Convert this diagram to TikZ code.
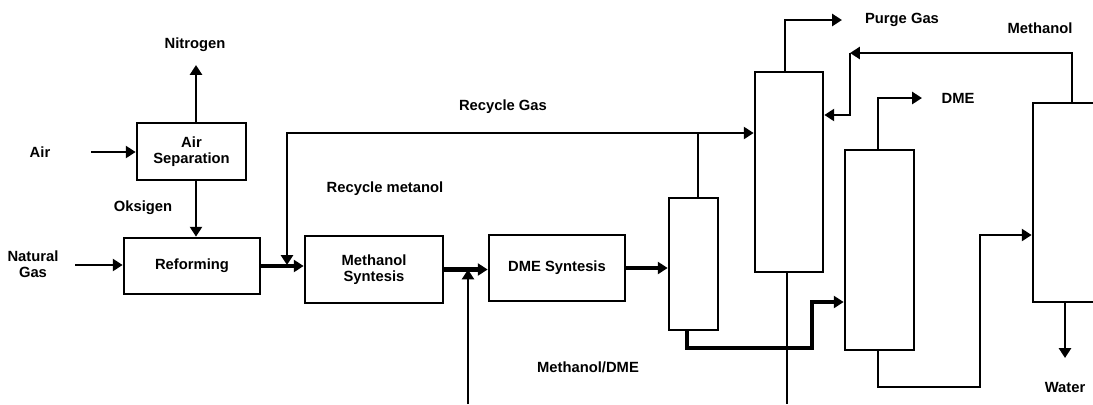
\documentclass[tikz,border=0pt]{standalone}
\usepackage{fontspec}
\setmainfont{Liberation Sans}
\usetikzlibrary{arrows.meta,calc}

\begin{document}
\begin{tikzpicture}[x=0.025cm, y=-0.025cm,
    lbl/.style={align=center, font=\bfseries\fontsize{10.5}{11.5}\selectfont},
    unit/.style={lbl, draw, line width=1.9pt, inner sep=0pt},
    pipe/.style={line width=1.9pt},
    flow/.style={pipe, -{Triangle[length=7pt,width=8.5pt]}},
    mainflow/.style={flow, line width=3pt}]
    \useasboundingbox (0,0) rectangle (1093,404);
    % process units
    \node[unit, minimum width=2.725cm, minimum height=1.425cm] (sep) at (191.5,151.5) {Air\\Separation};
    \node[unit, minimum width=3.4cm, minimum height=1.4cm] (ref) at (192,266) {Reforming};
    \node[unit, minimum width=3.45cm, minimum height=1.675cm] (ms) at (374,269.5) {Methanol\\Syntesis};
    \node[unit, minimum width=3.4cm, minimum height=1.65cm] (dme) at (557,268) {DME Syntesis};
    % columns
    \node[unit, minimum width=1.225cm, minimum height=3.3cm] (col1) at (693.5,264) {};
    \node[unit, minimum width=1.7cm, minimum height=5cm] (col2) at (789,172) {};
    \node[unit, minimum width=1.725cm, minimum height=5cm] (col3) at (879.5,250) {};
    \node[unit, minimum width=2.175cm, minimum height=4.975cm] (col4) at (1076.5,202.5) {};
    % stream labels
    \foreach \n/\x/\y/\t in {nitro/195/45/Nitrogen, air/40/152/Air, oks/143/208/Oksigen,
        ng/33/264/{Natural\\Gas}, rgas/503/107/Recycle Gas, rmet/385/189/Recycle metanol,
        purge/902/20/Purge Gas, meth/1040/28/Methanol, dmeout/958/98/DME, water/1065/387/Water}
      \node[lbl] (\n) at (\x,\y) {\t};
    \node[lbl] (mdme) at (588,367) {Methanol/DME};
    % feed side
    \coordinate (airin) at (91,152);
    \coordinate (ngin) at (75,265);
    \coordinate (n2out) at (196,65);
    \draw[flow] (airin) -- (sep.west |- airin);
    \draw[flow] (sep.north -| n2out) -- (n2out);
    \draw[flow] (sep.south -| n2out) -- (ref.north -| n2out);
    \draw[flow] (ngin) -- (ref.west |- ngin);
    \draw[mainflow] (ref.east) -- (ms.west |- ref.east);
    \draw[mainflow] (ms.east) -- (dme.west |- ms.east);
    \draw[mainflow] (dme.east) -- (col1.west |- dme.east);
    % recycle gas and recycle methanol
    \coordinate (rgj) at (698,133);
    \coordinate (rmj) at (287,265);
    \coordinate (rmin) at (468,404);
    \draw[pipe] (col1.north -| rgj) -- (rgj);
    \draw[flow] (rgj) -- (rgj -| col2.west);
    \draw[flow] (rgj) -| (rmj);
    \draw[flow] (rmin) -- (rmin |- ms.east);
    % separation train
    \coordinate (c1b) at (812,348);
    \draw[mainflow] (col1.south -| 687,0) |- (c1b) |- (col3.west |- 0,302);
    \coordinate (pg) at (842,20);
    \draw[flow] (col2.north -| 785,0) |- (pg);
    \draw[pipe] (col2.south -| 787,0) -- (787,404);
    \coordinate (mr) at (850,53);
    \draw[flow] (col4.north -| 1072,0) |- (mr);
    \draw[flow] (mr) |- (col2.east |- 0,115);
    \coordinate (dm) at (922,98);
    \draw[flow] (col3.north -| 878,0) |- (dm);
    \coordinate (c3b) at (980,387);
    \draw[flow] (col3.south -| 878,0) |- (c3b) |- (col4.west |- 0,235);
    \coordinate (wout) at (1065,358);
    \draw[flow] (col4.south -| wout) -- (wout);
\end{tikzpicture}
\end{document}
